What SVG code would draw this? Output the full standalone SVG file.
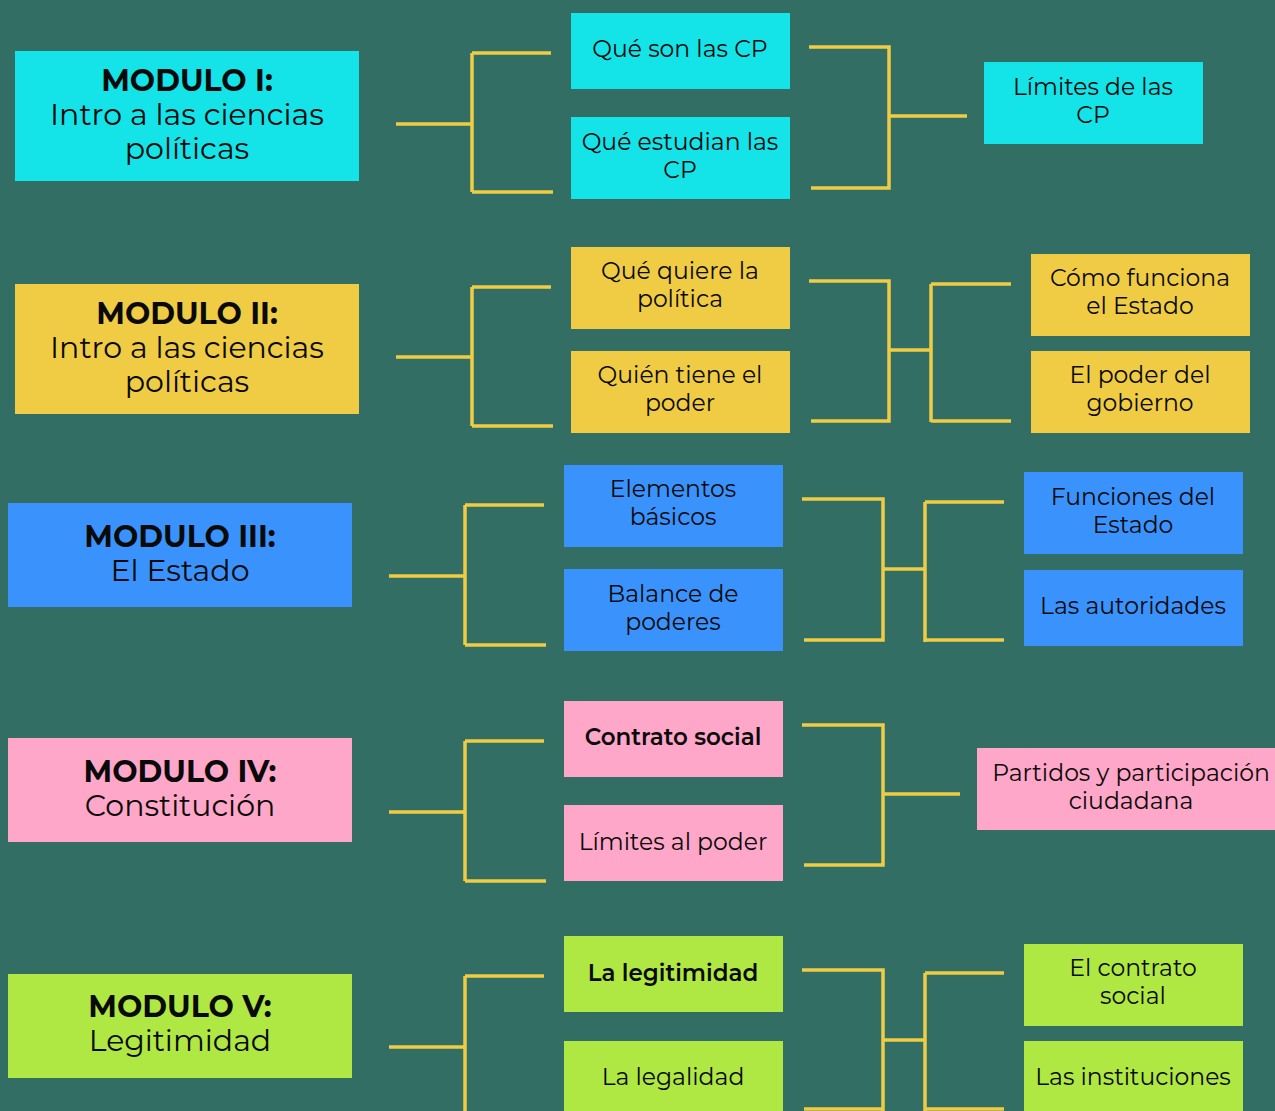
<svg xmlns="http://www.w3.org/2000/svg" width="1275" height="1111" viewBox="0 0 1275 1111">
<style>
.bg{fill:#336E64}
.cy{fill:#14E3E8}.ye{fill:#F0CC44}.bl{fill:#3A93FC}.pk{fill:#FFA7C8}.gr{fill:#B0E843}
text{font-family:Montserrat,"Open Sans","Noto Sans",sans-serif;fill:#0a0a0a;text-anchor:middle}
.m{font-size:30px}
.b{font-weight:700}
.s{font-size:23.5px}
.sb{font-size:23px;font-weight:600}
#connectors path{fill:none;stroke:#F0CC44;stroke-width:3.5}
</style>
<rect class="bg" width="1275" height="1111"/>
<g id="connectors">
<path d="M396 124H472M472 53V192M472 53H551M472 192H553"/>
<path d="M809 47H889V188H811M889 116H967"/>
<path d="M396 357H472M472 287V426M472 287H551M472 426H553"/>
<path d="M809 281H889V421H811M889 350H931M931 284V422M931 284H1011M931 421H1011"/>
<path d="M389 576H465M465 505V645M465 505H544M465 645H546"/>
<path d="M802 499H883V640H804M883 569H925M925 502V642M925 502H1004M925 640H1004"/>
<path d="M389 812H465M465 741V881M465 741H544M465 881H546"/>
<path d="M802 725H883V865H804M883 794H960"/>
<path d="M389 1047H465M465 976V1115M465 976H544"/>
<path d="M802 970H883V1115M804 1109H883M883 1040H925M925 973V1115M925 973H1004M925 1109H1004"/>
</g>
<g id="m1"><rect class="cy" x="15" y="51" width="344" height="130"/><text class="m b" x="187" y="91">MODULO I:</text><text class="m" x="187" y="125">Intro a las ciencias</text><text class="m" x="187" y="159">políticas</text></g>
<g id="n1a"><rect class="cy" x="571" y="13" width="219" height="76"/><text class="s" x="680" y="57">Qué son las CP</text></g>
<g id="n1b"><rect class="cy" x="571" y="117" width="219" height="82"/><text class="s" x="680" y="150">Qué estudian las</text><text class="s" x="680" y="178">CP</text></g>
<g id="n1c"><rect class="cy" x="984" y="62" width="219" height="82"/><text class="s" x="1093" y="95">Límites de las</text><text class="s" x="1093" y="123">CP</text></g>

<g id="m2"><rect class="ye" x="15" y="284" width="344" height="130"/><text class="m b" x="187" y="324">MODULO II:</text><text class="m" x="187" y="358">Intro a las ciencias</text><text class="m" x="187" y="392">políticas</text></g>
<g id="n2a"><rect class="ye" x="571" y="247" width="219" height="82"/><text class="s" x="680" y="279">Qué quiere la</text><text class="s" x="680" y="307">política</text></g>
<g id="n2b"><rect class="ye" x="571" y="351" width="219" height="82"/><text class="s" x="680" y="383">Quién tiene el</text><text class="s" x="680" y="411">poder</text></g>
<g id="n2c"><rect class="ye" x="1031" y="254" width="219" height="82"/><text class="s" x="1140" y="286">Cómo funciona</text><text class="s" x="1140" y="314">el Estado</text></g>
<g id="n2d"><rect class="ye" x="1031" y="351" width="219" height="82"/><text class="s" x="1140" y="383">El poder del</text><text class="s" x="1140" y="411">gobierno</text></g>

<g id="m3"><rect class="bl" x="8" y="503" width="344" height="104"/><text class="m b" x="180" y="547">MODULO III:</text><text class="m" x="180" y="581">El Estado</text></g>
<g id="n3a"><rect class="bl" x="564" y="465" width="219" height="82"/><text class="s" x="673" y="497">Elementos</text><text class="s" x="673" y="525">básicos</text></g>
<g id="n3b"><rect class="bl" x="564" y="569" width="219" height="82"/><text class="s" x="673" y="602">Balance de</text><text class="s" x="673" y="630">poderes</text></g>
<g id="n3c"><rect class="bl" x="1024" y="472" width="219" height="82"/><text class="s" x="1133" y="505">Funciones del</text><text class="s" x="1133" y="533">Estado</text></g>
<g id="n3d"><rect class="bl" x="1024" y="570" width="219" height="76"/><text class="s" x="1133" y="614">Las autoridades</text></g>

<g id="m4"><rect class="pk" x="8" y="738" width="344" height="104"/><text class="m b" x="180" y="782">MODULO IV:</text><text class="m" x="180" y="816">Constitución</text></g>
<g id="n4a"><rect class="pk" x="564" y="701" width="219" height="76"/><text class="sb" x="673" y="745">Contrato social</text></g>
<g id="n4b"><rect class="pk" x="564" y="805" width="219" height="76"/><text class="s" x="673" y="850">Límites al poder</text></g>
<g id="n4c"><rect class="pk" x="977" y="748" width="300" height="82"/><text class="s" x="1131" y="781">Partidos y participación</text><text class="s" x="1131" y="809">ciudadana</text></g>

<g id="m5"><rect class="gr" x="8" y="974" width="344" height="104"/><text class="m b" x="180" y="1017">MODULO V:</text><text class="m" x="180" y="1051">Legitimidad</text></g>
<g id="n5a"><rect class="gr" x="564" y="936" width="219" height="76"/><text class="sb" x="673" y="981">La legitimidad</text></g>
<g id="n5b"><rect class="gr" x="564" y="1041" width="219" height="80"/><text class="s" x="673" y="1085">La legalidad</text></g>
<g id="n5c"><rect class="gr" x="1024" y="944" width="219" height="82"/><text class="s" x="1133" y="976">El contrato</text><text class="s" x="1133" y="1004">social</text></g>
<g id="n5d"><rect class="gr" x="1024" y="1041" width="219" height="80"/><text class="s" x="1133" y="1085">Las instituciones</text></g>
</svg>
